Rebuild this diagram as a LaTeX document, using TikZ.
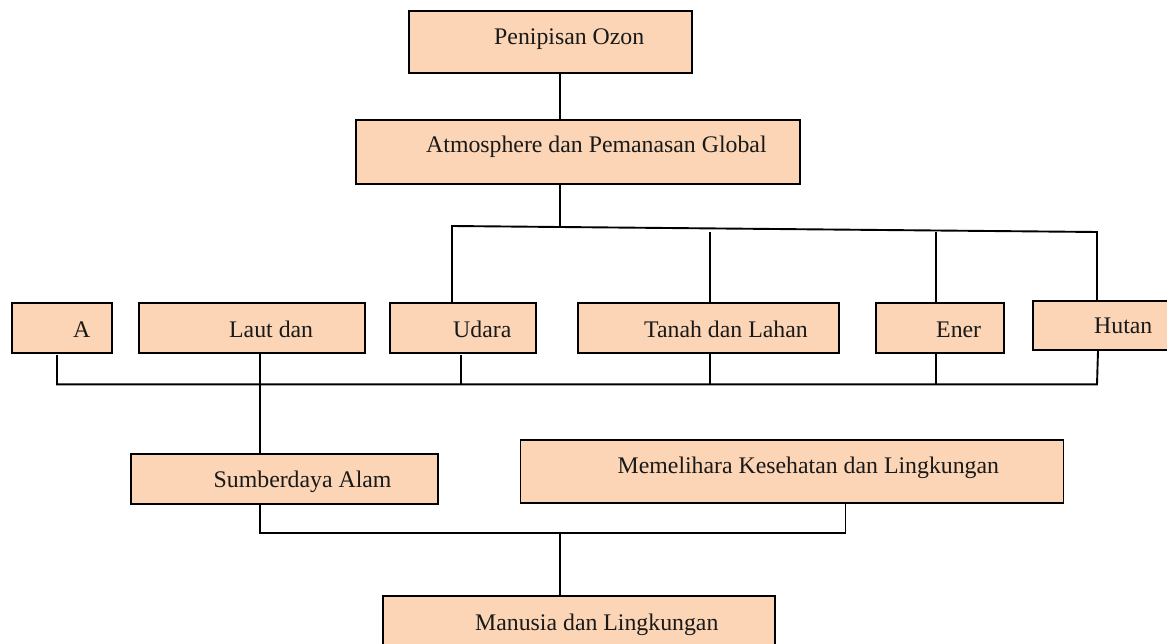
\documentclass[tikz,border=0pt]{standalone}
\usepackage{fontspec}
\setmainfont{Liberation Serif}
\definecolor{peach}{HTML}{FBD5B5}
\tikzset{
  box/.style={draw=black, fill=peach, line width=1.9pt, rectangle, inner sep=0pt, anchor=north west},
  lbl/.style={anchor=base west, inner sep=0pt, font=\fontsize{23.8}{28}\selectfont, text=black!90},
  conn/.style={draw=black, line width=1.9pt}
}
\begin{document}
\begin{tikzpicture}[x=1pt,y=-1pt]
\useasboundingbox (0,0) rectangle (1167,644);
\fill[white] (0,0) rectangle (1167,644);
\clip (0,0) rectangle (1167,644);
% boxes
\node[box, minimum width=283pt, minimum height=62pt] (pen) at (408,10) {};
\node[box, minimum width=444pt, minimum height=64pt] (atm) at (355,119) {};
\node[box, minimum width=100pt, minimum height=50pt] (a) at (11,302) {};
\node[box, minimum width=226pt, minimum height=50pt] (laut) at (138,302) {};
\node[box, minimum width=146pt, minimum height=50pt] (udara) at (389,302) {};
\node[box, minimum width=261pt, minimum height=50pt] (tanah) at (577,302) {};
\node[box, minimum width=128pt, minimum height=50pt] (ener) at (875,302) {};
\node[box, minimum width=145pt, minimum height=49pt] (hutan) at (1032,300) {};
\node[box, minimum width=307pt, minimum height=50pt] (sda) at (130,453) {};
\node[box, minimum width=543pt, minimum height=63pt] (mem) at (519.5,439) {};
\node[box, minimum width=392pt, minimum height=60pt] (man) at (382,595) {};
% labels
\node[lbl] (tpen) at (494,45) {Penipisan Ozon};
\node[lbl] (tatm) at (426,153) {Atmosphere dan Pemanasan Global};
\node[lbl] (ta) at (73,337) {A};
\node[lbl] (tlaut) at (229,337) {Laut dan};
\node[lbl] (tudara) at (453,337) {Udara};
\node[lbl] (ttanah) at (644,337) {Tanah dan Lahan};
\node[lbl] (tener) at (936,337) {Ener};
\node[lbl] (thutan) at (1094,333) {Hutan};
\node[lbl] (tsda) at (213.5,487) {Sumberdaya Alam};
\node[lbl] (tmem) at (617.5,473) {Memelihara Kesehatan dan Lingkungan};
\node[lbl] (tman) at (475,630) {Manusia dan Lingkungan};
% coordinates
\coordinate (tl) at (452,226);
\coordinate (tm) at (560,227);
\coordinate (tr) at (1097,232);
\coordinate (bl) at (57,384.3);
\coordinate (br) at (1097,384.3);
\coordinate (sl) at (260,532.7);
\coordinate (sm) at (560,532.7);
\coordinate (sr) at (845.5,532.7);
% connectors top
\draw[conn] (560,0 |- pen.south) -- (560,0 |- atm.north);
\draw[conn] (560,0 |- atm.south) -- (tm);
\draw[conn] (udara.north -| tl) -- (tl) -- (tr) -- (hutan.north -| tr);
\draw[conn] (710,232) -- (710,0 |- tanah.north);
\draw[conn] (936,231.7) -- (936,0 |- ener.north);
% connectors bottom
\draw[conn] (57,355) -- (bl) -- (br) -- (1098,0 |- hutan.south);
\draw[conn] (260,0 |- laut.south) -- (260,0 |- sda.north);
\draw[conn] (461,355) -- (461,384.3);
\draw[conn] (710,0 |- tanah.south) -- (710,384.3);
\draw[conn] (936,0 |- ener.south) -- (936,384.3);
% lower
\draw[conn] (260,0 |- sda.south) -- (sl) -- (sr) -- (845.5,0 |- mem.south);
\draw[conn] (sm) -- (560,0 |- man.north);
\end{tikzpicture}
\end{document}
